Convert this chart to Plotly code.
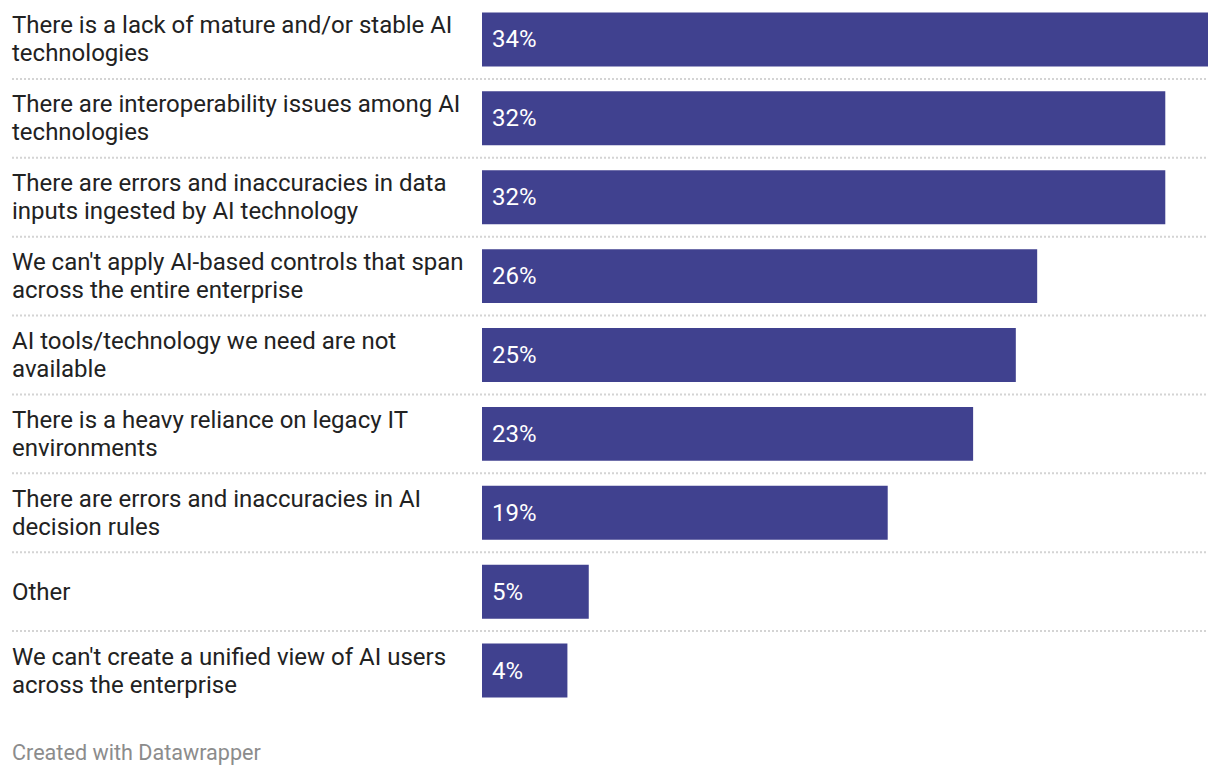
import plotly.graph_objects as go

categories = [
    "There is a lack of mature and/or stable AI<br>technologies",
    "There are interoperability issues among AI<br>technologies",
    "There are errors and inaccuracies in data<br>inputs ingested by AI technology",
    "We can't apply AI-based controls that span<br>across the entire enterprise",
    "AI tools/technology we need are not<br>available",
    "There is a heavy reliance on legacy IT<br>environments",
    "There are errors and inaccuracies in AI<br>decision rules",
    "Other",
    "We can't create a unified view of AI users<br>across the enterprise",
]
values = [34, 32, 32, 26, 25, 23, 19, 5, 4]
value_labels = [f"{v}%" for v in values]

W, H = 1220, 778
ML, MR, MT, MB = 482, 12, 0, 68
plot_w = W - ML - MR
label_x = (12 - ML) / plot_w
LINE_H = 28

BAR = "#40418f"
FONT = "Roboto, sans-serif"

fig = go.Figure(go.Bar(
    x=values,
    y=list(range(len(categories))),
    orientation="h",
    marker=dict(color=BAR, line=dict(width=0)),
    hoverinfo="skip",
))

annotations = []
for i, (c, t) in enumerate(zip(categories, value_labels)):
    lines = c.split("<br>")
    n = len(lines)
    for k, line in enumerate(lines):
        annotations.append(dict(
            x=label_x, xref="paper", y=i, yref="y", text=line, showarrow=False,
            xanchor="left", yanchor="middle", align="left",
            xshift=-2, yshift=-(k - (n - 1) / 2) * LINE_H,
            font=dict(family=FONT, size=24, color="#222222"),
        ))
    annotations.append(dict(
        x=0, xref="x", y=i, yref="y", text=t, showarrow=False,
        xanchor="left", yanchor="middle", xshift=8,
        font=dict(family=FONT, size=24, color="#ffffff"),
    ))
annotations.append(dict(
    x=label_x, xref="paper", y=0, yref="paper", xshift=-2, yshift=-42,
    text="Created with Datawrapper",
    showarrow=False, xanchor="left", yanchor="middle",
    font=dict(family=FONT, size=21.6, color="#8c8c8c"),
))

shapes = []
for i in range(len(categories) - 1):
    shapes.append(dict(
        type="line", xref="paper", yref="y", x0=label_x, x1=1, y0=i + 0.5, y1=i + 0.5,
        line=dict(color="#d4d4d4", width=2, dash="2px,2px"), layer="below",
    ))

fig.update_layout(
    width=W, height=H,
    margin=dict(l=ML, r=MR, t=MT, b=MB),
    paper_bgcolor="white", plot_bgcolor="white",
    bargap=0.316,
    showlegend=False,
    xaxis=dict(range=[0, 34], visible=False, fixedrange=True),
    yaxis=dict(range=[len(categories) - 0.5, -0.5], visible=False, fixedrange=True),
    annotations=annotations,
    shapes=shapes,
)

fig.write_html(
    "out.html",
    config={"displayModeBar": False},
    post_script="document.body.style.margin='0';document.body.style.overflow='hidden';",
)
